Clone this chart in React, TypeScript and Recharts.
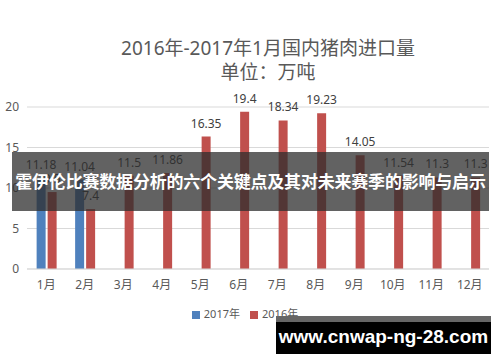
import React from 'react';
import { BarChart, Bar, XAxis, YAxis, CartesianGrid, Legend, LabelList } from 'recharts';

const months = ['1月', '2月', '3月', '4月', '5月', '6月', '7月', '8月', '9月', '10月', '11月', '12月'];
const imports2017: (number | null)[] = [11.18, 11.04, null, null, null, null, null, null, null, null, null, null];
const imports2016: number[] = [9.5, 7.4, 11.5, 11.86, 16.35, 19.4, 18.34, 19.23, 14.05, 11.54, 11.3, 11.3];
const yTicks = [0, 5, 10, 15, 20];

const data = months.map((m, i) => ({ month: m, y2017: imports2017[i], y2016: imports2016[i] }));

const FONT = "'Noto Sans', 'Noto Sans CJK SC', sans-serif";
const GREY = '#595959';

const legendText = (value: string) => <span style={{ color: GREY }}>{value}</span>;
// 2017 first, like the original legend
const legendOrder = (item: any) => (item.dataKey === 'y2017' ? 0 : 1);

const App: React.FC = () => {
  return (
    <div style={{ position: 'absolute', left: 0, top: 0, width: 500, height: 362, background: '#fff', fontFamily: FONT, overflow: 'hidden' }}>
      <div style={{ position: 'absolute', top: 36, width: 500, paddingLeft: 36, boxSizing: 'border-box', textAlign: 'center', color: GREY, fontSize: 19, lineHeight: '24px' }}>
        2016年-2017年1月国内猪肉进口量
        <br />
        单位：万吨
      </div>
      <BarChart
        width={500}
        height={362}
        data={data}
        margin={{ top: 107, right: 11, bottom: 47, left: 0 }}
        barCategoryGap="25%"
        barGap={2}
      >
        <CartesianGrid vertical={false} stroke="#d9d9d9" />
        <XAxis
          dataKey="month"
          tickLine={false}
          axisLine={{ stroke: '#d9d9d9' }}
          tickMargin={5}
          tick={{ fill: GREY, fontSize: 12, fontFamily: FONT }}
        />
        <YAxis
          width={27}
          domain={[0, 20]}
          ticks={yTicks}
          tickLine={false}
          axisLine={false}
          tick={{ fill: GREY, fontSize: 12, fontFamily: FONT }}
        />
        <Legend
          iconType="square"
          iconSize={8}
          formatter={legendText}
          itemSorter={legendOrder}
          wrapperStyle={{ top: 305, left: 0, width: 500, fontSize: 11, fontFamily: FONT }}
        />
        <Bar dataKey="y2017" name="2017年" fill="#4f81bd" isAnimationActive={false}>
          <LabelList dataKey="y2017" position="top" offset={9} fill="#404040" fontSize={12} />
        </Bar>
        <Bar dataKey="y2016" name="2016年" fill="#c0504d" isAnimationActive={false}>
          <LabelList dataKey="y2016" position="top" offset={9} fill="#404040" fontSize={12} />
        </Bar>
      </BarChart>
      <div style={{ position: 'absolute', left: 12, top: 152, width: 477, height: 59, background: 'rgba(45,45,45,0.75)', color: '#fff', fontWeight: 'bold', fontSize: 17, lineHeight: '59px', textAlign: 'center', whiteSpace: 'nowrap', letterSpacing: -0.2 }}>
        霍伊伦比赛数据分析的六个关键点及其对未来赛季的影响与启示
      </div>
      <div style={{ position: 'absolute', left: 276, top: 316, width: 215, height: 38, background: '#000', borderTop: '6px solid #666', boxSizing: 'border-box', color: '#fff', fontWeight: 'bold', fontSize: 19, lineHeight: '30px', textAlign: 'center', fontFamily: "'Liberation Sans', Arial, sans-serif" }}>
        www.cnwap-ng-28.com
      </div>
    </div>
  );
};

export default App;
